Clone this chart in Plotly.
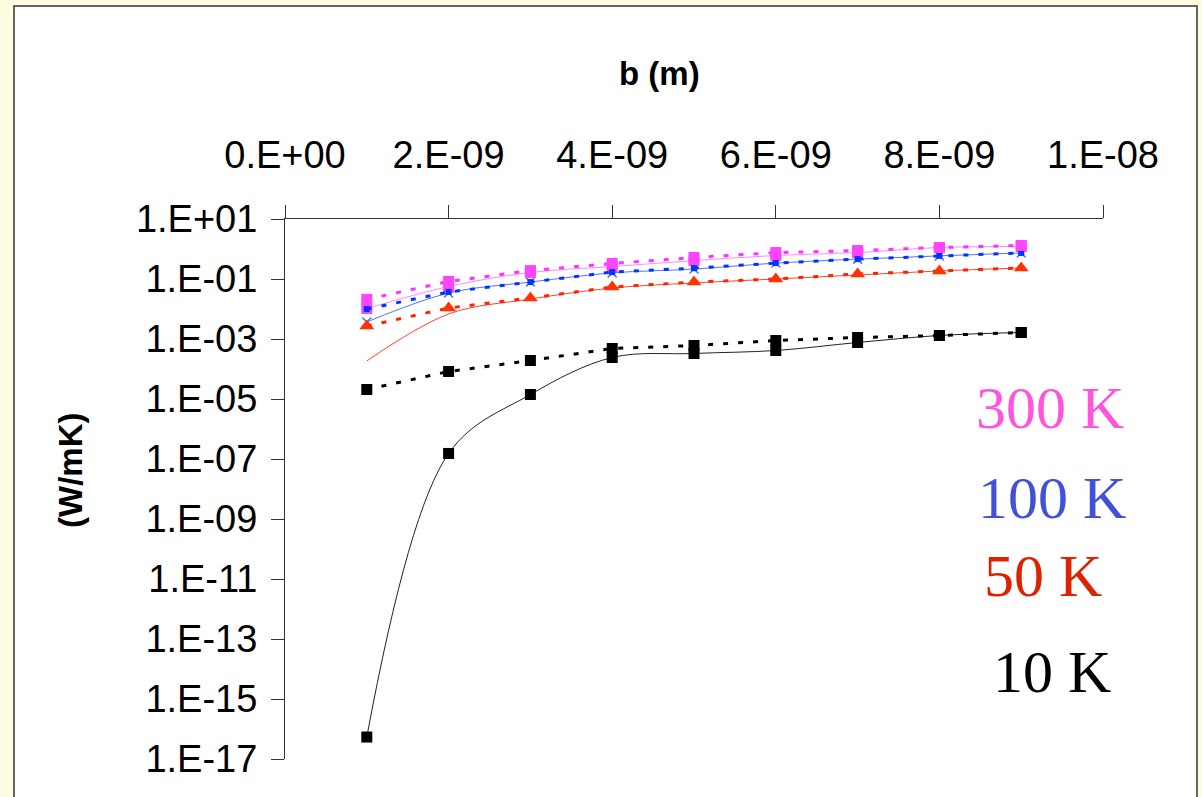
import plotly.graph_objects as go

# ---- data ----
b_m = [1e-9, 2e-9, 3e-9, 4e-9, 5e-9, 6e-9, 7e-9, 8e-9, 9e-9]

k300_dotted = [0.021, 0.083, 0.19, 0.33, 0.52, 0.76, 0.89, 1.12, 1.31]
k300_solid = [0.0104, 0.056, 0.165, 0.26, 0.41, 0.61, 0.76, 1.12, 1.21]
k100_dotted = [0.010, 0.037, 0.079, 0.17, 0.23, 0.34, 0.46, 0.59, 0.74]
k100_solid = [0.0037, 0.034, 0.079, 0.16, 0.215, 0.34, 0.46, 0.59, 0.74]
k50_dotted = [0.0027, 0.0108, 0.0233, 0.054, 0.079, 0.10, 0.147, 0.185, 0.233]
k50_solid = [1.85e-4, 6.8e-3, 0.0215, 0.05, 0.074, 0.10, 0.136, 0.185, 0.233]
k10_dotted = [2.07e-5, 8.25e-5, 1.92e-4, 4.82e-4, 6.07e-4, 8.91e-4, 1.12e-3, 1.31e-3, 1.65e-3]
k10_solid = [5.4e-17, 1.53e-7, 1.41e-5, 2.42e-4, 3.29e-4, 4.14e-4, 7.64e-4, 1.31e-3, 1.65e-3]

x_ticks = [0, 2e-9, 4e-9, 6e-9, 8e-9, 1e-8]
x_tick_text = ["0.E+00", "2.E-09", "4.E-09", "6.E-09", "8.E-09", "1.E-08"]
y_ticks = [1e1, 1e-1, 1e-3, 1e-5, 1e-7, 1e-9, 1e-11, 1e-13, 1e-15, 1e-17]
y_tick_text = ["1.E+01", "1.E-01", "1.E-03", "1.E-05", "1.E-07", "1.E-09",
               "1.E-11", "1.E-13", "1.E-15", "1.E-17"]

labels = ["300 K", "100 K", "50 K", "10 K"]
label_colors = ["#FF55DD", "#4050D8", "#DD2200", "#000000"]

# ---- layout geometry ----
W, H = 1202, 797
L, R, T, B = 285, 99, 219, 38
PW, PH = W - L - R, H - T - B


def px(xp):
    return (xp - L) / PW


def py(yp):
    return (H - B - yp) / PH


DOT = "5px,10px"
fig = go.Figure()

# solid (smoothed) series first
fig.add_trace(go.Scatter(x=b_m, y=k10_solid, mode="lines+markers",
                         line=dict(color="#222222", width=1, shape="spline"),
                         marker=dict(symbol="square", size=11, color="#000000")))
fig.add_trace(go.Scatter(x=b_m, y=k50_solid, mode="lines",
                         line=dict(color="#FF4422", width=1, shape="spline")))
fig.add_trace(go.Scatter(x=b_m, y=k100_solid, mode="lines+markers",
                         line=dict(color="#4F72FF", width=1, shape="spline"),
                         marker=dict(symbol="x-thin", size=9,
                                     line=dict(color="#4F72FF", width=1.5))))
fig.add_trace(go.Scatter(x=b_m, y=k300_solid, mode="lines+markers",
                         line=dict(color="#FF88FF", width=1, shape="spline"),
                         marker=dict(symbol="square", size=11, color="#FF44FF")))

# dotted series
fig.add_trace(go.Scatter(x=b_m, y=k10_dotted, mode="lines+markers",
                         line=dict(color="#000000", width=3, dash=DOT),
                         marker=dict(symbol="square", size=11, color="#000000")))
fig.add_trace(go.Scatter(x=b_m, y=k50_dotted, mode="lines+markers",
                         line=dict(color="#FF2200", width=3, dash=DOT),
                         marker=dict(symbol="triangle-up", size=13, color="#FF3300")))
fig.add_trace(go.Scatter(x=b_m, y=k100_dotted, mode="lines+markers",
                         line=dict(color="#0033FF", width=3, dash=DOT),
                         marker=dict(symbol="square", size=6, color="#0033FF")))
fig.add_trace(go.Scatter(x=b_m, y=k300_dotted, mode="lines+markers",
                         line=dict(color="#FF33FF", width=3, dash=DOT),
                         marker=dict(symbol="square", size=11, color="#FF44FF")))

annotations = []
label_pos = [(1050, 408), (1052, 498), (1043, 576), (1052, 672)]
for txt, col, (xp, yp) in zip(labels, label_colors, label_pos):
    annotations.append(dict(text=txt, x=px(xp), y=py(yp), xref="paper", yref="paper",
                            xanchor="center", yanchor="middle", showarrow=False,
                            font=dict(family="Times New Roman, Liberation Serif, serif",
                                      size=60, color=col)))
annotations.append(dict(text="<b>b (m)</b>", x=px(659), y=py(73), xref="paper", yref="paper",
                        xanchor="center", yanchor="middle", showarrow=False,
                        font=dict(family="Arial, Liberation Sans, sans-serif", size=33,
                                  color="#000000")))
annotations.append(dict(text="<b>(W/mK)</b>", x=px(70), y=py(470), xref="paper", yref="paper",
                        xanchor="center", yanchor="middle", showarrow=False, textangle=-90,
                        font=dict(family="Arial, Liberation Sans, sans-serif", size=33,
                                  color="#000000")))

shapes = [dict(type="rect", xref="paper", yref="paper", layer="below",
               x0=px(14), x1=px(1197), y0=py(6), y1=py(805),
               fillcolor="#FFFFFF", line=dict(color="#333333", width=1.5))]

fig.update_layout(
    width=W, height=H,
    margin=dict(l=L, r=R, t=T, b=B),
    paper_bgcolor="#FFFDE1",
    plot_bgcolor="rgba(255,255,255,0)",
    showlegend=False,
    annotations=annotations,
    shapes=shapes,
    font=dict(family="Arial, Liberation Sans, sans-serif", size=38, color="#000000"),
)
fig.update_xaxes(side="top", range=[0, 1e-8], tickvals=x_ticks, ticktext=x_tick_text,
                 showgrid=False, zeroline=False, showline=True, linecolor="#333333",
                 linewidth=1, ticks="outside", ticklen=13, tickcolor="#333333",
                 tickfont=dict(size=38), ticklabelstandoff=22)
fig.update_yaxes(type="log", range=[-17, 1], tickvals=y_ticks, ticktext=y_tick_text,
                 showgrid=False, zeroline=False, showline=True, linecolor="#333333",
                 linewidth=1, ticks="outside", ticklen=13, tickcolor="#333333",
                 tickfont=dict(size=38), ticklabelstandoff=6)

fig.write_html("out.html", config={"displayModeBar": False})
